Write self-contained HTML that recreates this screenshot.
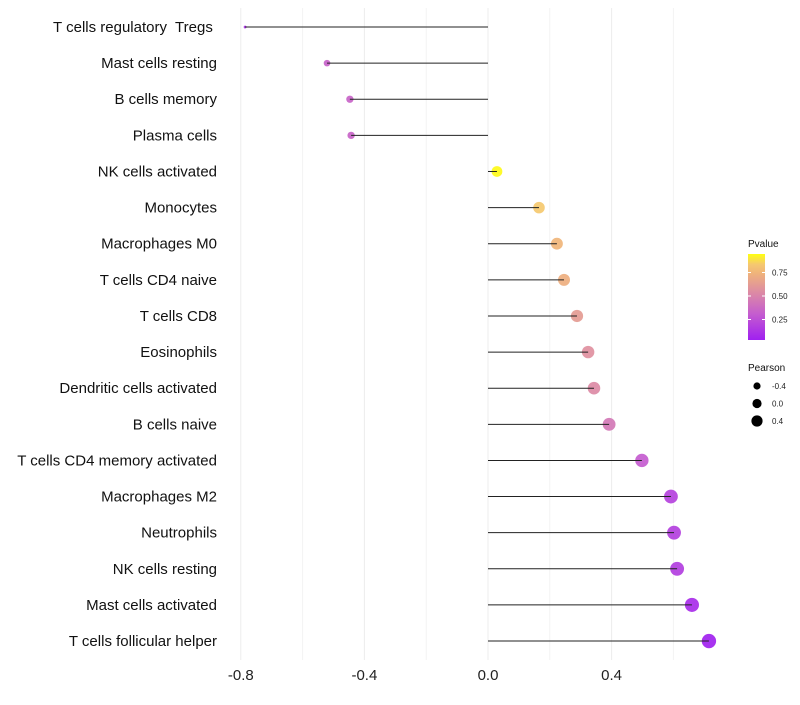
<!DOCTYPE html>
<html><head><meta charset="utf-8"><style>
body{margin:0;background:#fff;font-family:"Liberation Sans",sans-serif}
text{white-space:pre}
</style></head><body>
<svg id="c" width="800" height="700" xmlns="http://www.w3.org/2000/svg">
<defs><linearGradient id="pg" x1="0" y1="1" x2="0" y2="0">
<stop offset="0" stop-color="#a020f0"/><stop offset="0.3" stop-color="#c45ccf"/><stop offset="0.55" stop-color="#dc8aa5"/><stop offset="0.78" stop-color="#f0b47a"/><stop offset="0.88" stop-color="#f5c870"/><stop offset="1" stop-color="#ffff10"/></linearGradient></defs>
<g id="grid"></g><g id="pts"></g><g id="stems"></g>
</svg>
<script>
const categories=["T cells regulatory  Tregs ","Mast cells resting","B cells memory","Plasma cells","NK cells activated","Monocytes","Macrophages M0","T cells CD4 naive","T cells CD8","Eosinophils","Dendritic cells activated","B cells naive","T cells CD4 memory activated","Macrophages M2","Neutrophils","NK cells resting","Mast cells activated","T cells follicular helper"];
const pearson=[-0.786,-0.521,-0.447,-0.443,0.029,0.165,0.223,0.246,0.288,0.324,0.343,0.392,0.498,0.592,0.602,0.612,0.660,0.715];
const pvalue=[0.12,0.35,0.36,0.36,0.96,0.86,0.77,0.74,0.64,0.58,0.55,0.46,0.32,0.2,0.19,0.18,0.1,0.05];
const xTicks=[-0.8,-0.4,0.0,0.4];
const xTickLabels=["-0.8","-0.4","0.0","0.4"];
const minorTicks=[-0.6,-0.2,0.2,0.6];
const legendP=[0.25,0.5,0.75];
const legendS=[-0.4,0.0,0.4];
const NS="http://www.w3.org/2000/svg";
const svg=document.getElementById('c');
const X=v=>488+v*309;
const Y=i=>27+i*36.12;
const R=v=>Math.sqrt(Math.max(1,28+33*v));
const stops=[[0,[160,32,240]],[0.3,[196,92,207]],[0.55,[220,138,165]],[0.78,[240,180,122]],[0.88,[245,200,112]],[1,[255,255,16]]];
function col(p){const t=(p-0.04)/(0.97-0.04);const tt=Math.max(0,Math.min(1,t));
for(let i=1;i<stops.length;i++){if(tt<=stops[i][0]){const a=stops[i-1],b=stops[i];const f=(tt-a[0])/(b[0]-a[0]);
return 'rgb('+a[1].map((c,k)=>Math.round(c+(b[1][k]-c)*f)).join(',')+')';}}return 'rgb(255,255,16)';}
function mk(tag,attrs,text,parent){const e=document.createElementNS(NS,tag);for(const k in attrs)e.setAttribute(k,attrs[k]);if(text!==undefined&&text!==null)e.textContent=text;(parent||svg).appendChild(e);return e;}
const G=document.getElementById('grid'),P=document.getElementById('pts'),S=document.getElementById('stems');
minorTicks.forEach(v=>{const e=mk('line',{x1:X(v),x2:X(v),y1:8,y2:660,stroke:'#f3f3f3','stroke-width':1},null,G);

});
xTicks.forEach((v,i)=>{const e=mk('line',{x1:X(v),x2:X(v),y1:8,y2:660,stroke:'#ececec','stroke-width':1},null,G);


const t=mk('text',{x:X(v),y:680,'text-anchor':'middle','font-size':15,fill:'#222'},xTickLabels[i]);

});
categories.forEach((c,i)=>{const y=Y(i);
const t=mk('text',{x:217,y:y+5,'text-anchor':'end','font-size':15,fill:'#111'},c);


const d=mk('circle',{cx:X(pearson[i]),cy:y,r:R(pearson[i]),fill:col(pvalue[i]),'fill-opacity':0.92},null,P);


const l=mk('line',{x1:X(0),x2:X(pearson[i]),y1:y,y2:y,stroke:'#222','stroke-width':1},null,S);

});
let t=mk('text',{x:748,y:247,'font-size':10,fill:'#111'},'Pvalue');


let r=mk('rect',{x:748,y:254,width:17,height:86,fill:'url(#pg)'});


legendP.forEach(p=>{const y=343-p*94;
const e=mk('text',{x:772,y:y+3,'font-size':8,fill:'#222'},p.toFixed(2));


mk('line',{x1:748,x2:751,y1:y,y2:y,stroke:'#fff'});mk('line',{x1:762,x2:765,y1:y,y2:y,stroke:'#fff'});});
t=mk('text',{x:748,y:371,'font-size':10,fill:'#111'},'Pearson');


legendS.forEach((v,i)=>{const y=386+i*17.5;
const c=mk('circle',{cx:757,cy:y,r:[3.6,4.6,5.6][i],fill:'#000'});


const e=mk('text',{x:772,y:y+3,'font-size':8,fill:'#222'},v.toFixed(1));

});
</script>
</body></html>
